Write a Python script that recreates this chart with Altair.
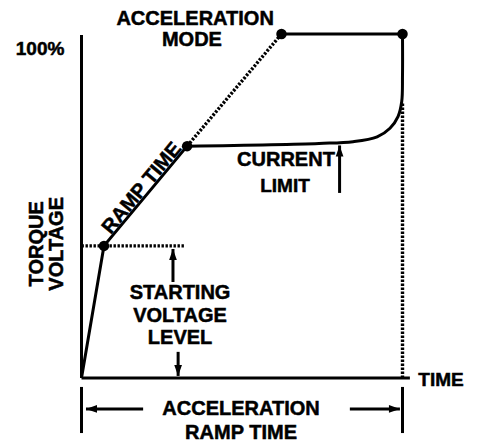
import altair as alt
import pandas as pd

# ---- data (time % of ramp, torque/voltage %) ----
ramp_t = [0, 7.0, 32.9]
ramp_v = [0, 38.4, 67.4]
full_t = [62.3, 100]
full_v = [100, 100]
limit_t = [32.9, 74.0, 84.6, 92.1, 96.1, 98.6, 99.75, 100, 100]
limit_v = [67.4, 68.2, 68.7, 70.1, 72.6, 76.0, 80.3, 88.1, 100]

start_level_t = [0, 32.2]
start_level_v = [38.4, 38.4]
ramp_ext_t = [32.9, 62.3]
ramp_ext_v = [67.4, 100]
end_drop_t = [100, 100]
end_drop_v = [0, 80]

dot_t = [7.0, 32.9, 62.3, 100]
dot_v = [38.4, 67.4, 100, 100]

# axis lines & dimension bars
rule_t = [0, 0, 0, 100]
rule_t2 = [0, 102.3, 0, 100]
rule_v = [0, 0, -2.6, -2.6]
rule_v2 = [99.7, 0, -16, -16]

# arrows: shaft start (t, v) -> tip (t2, v2)
arrow_t = [28.5, 30.1, 80.4, 19.2, 83.6]
arrow_v = [27.9, 7.6, 53.8, -9.0, -9.0]
arrow_t2 = [28.5, 30.1, 80.4, 1.4, 99.2]
arrow_v2 = [37.5, 0.6, 67.6, -9.0, -9.0]
arrow_dir = ["up", "down", "up", "left", "right"]

# labels
big_text = ["ACCELERATION", "MODE", "CURRENT", "STARTING", "VOLTAGE", "LEVEL",
            "ACCELERATION", "RAMP TIME"]
big_t = [35.4, 34.4, 63.7, 30.7, 30.7, 30.7, 49.7, 49.7]
big_v = [104.3, 98.2, 63.4, 24.7, 18.0, 11.6, -9.0, -16.0]

small_text = ["100%", "LIMIT", "TIME"]
small_t = [-12.9, 63.4, 112]
small_v = [95.6, 55.8, -0.6]

ylabel_text = ["TORQUE", "VOLTAGE"]
ylabel_t = [-13.9, -7.6]
ylabel_v = [39.0, 39.0]

ramp_label = ["RAMP TIME"]
ramp_label_t = [18.8]
ramp_label_v = [55.2]

# ---- scales ----
xs = alt.Scale(domain=[0, 100], range=[73.5, 394.5])
ys = alt.Scale(domain=[0, 100], range=[370, 26])
X = lambda f="t": alt.X(f"{f}:Q", scale=xs, axis=None)
Y = lambda f="v": alt.Y(f"{f}:Q", scale=ys, axis=None)

def line_df(t, v):
    return pd.DataFrame({"t": t, "v": v, "o": list(range(len(t)))})

layers = []
for t, v in [(ramp_t, ramp_v), (full_t, full_v)]:
    layers.append(alt.Chart(line_df(t, v)).mark_line(color="black", strokeWidth=3)
                  .encode(x=X(), y=Y(), order="o:Q"))
layers.append(alt.Chart(line_df(limit_t, limit_v))
              .mark_line(color="black", strokeWidth=3, interpolate="catmull-rom")
              .encode(x=X(), y=Y(), order="o:Q"))
for t, v in [(start_level_t, start_level_v), (ramp_ext_t, ramp_ext_v), (end_drop_t, end_drop_v)]:
    layers.append(alt.Chart(line_df(t, v))
                  .mark_line(color="black", strokeWidth=3.4, strokeDash=[2.4, 1.6])
                  .encode(x=X(), y=Y(), order="o:Q"))

rules = pd.DataFrame({"t": rule_t, "t2": rule_t2, "v": rule_v, "v2": rule_v2})
layers.append(alt.Chart(rules).mark_rule(color="black", strokeWidth=3)
              .encode(x=X(), x2="t2:Q", y=Y(), y2="v2:Q"))

arrows = pd.DataFrame({"t": arrow_t, "v": arrow_v, "t2": arrow_t2, "v2": arrow_v2, "d": arrow_dir})
layers.append(alt.Chart(arrows).mark_rule(color="black", strokeWidth=3)
              .encode(x=X(), x2="t2:Q", y=Y(), y2="v2:Q"))
shapes = {
    "up": "M-0.7,2L0,0L0.7,2Z",
    "down": "M-0.7,-2L0,0L0.7,-2Z",
    "left": "M2,-0.7L0,0L2,0.7Z",
    "right": "M-2,-0.7L0,0L-2,0.7Z",
}
for d, path in shapes.items():
    layers.append(alt.Chart(arrows[arrows.d == d].reset_index(drop=True)).mark_point(
        shape=path, filled=True, color="black", size=121, opacity=1)
        .encode(x=X("t2"), y=Y("v2")))

dots = pd.DataFrame({"t": dot_t, "v": dot_v})
layers.append(alt.Chart(dots).mark_circle(color="black", size=110, opacity=1)
              .encode(x=X(), y=Y()))

font = dict(font="Liberation Sans", fontWeight="bold", color="black",
            align="center", baseline="middle", stroke="black", strokeWidth=0.5)
big = pd.DataFrame({"txt": big_text, "t": big_t, "v": big_v})
layers.append(alt.Chart(big).mark_text(fontSize=20, **font)
              .encode(x=X(), y=Y(), text="txt:N"))
small = pd.DataFrame({"txt": small_text, "t": small_t, "v": small_v})
layers.append(alt.Chart(small).mark_text(fontSize=19, **font)
              .encode(x=X(), y=Y(), text="txt:N"))
yl = pd.DataFrame({"txt": ylabel_text, "t": ylabel_t, "v": ylabel_v})
layers.append(alt.Chart(yl).mark_text(fontSize=20, angle=270, **font)
              .encode(x=X(), y=Y(), text="txt:N"))
rl = pd.DataFrame({"txt": ramp_label, "t": ramp_label_t, "v": ramp_label_v})
layers.append(alt.Chart(rl).mark_text(fontSize=20, angle=309.7, **font)
              .encode(x=X(), y=Y(), text="txt:N"))

chart = alt.layer(*layers).properties(
    width=461, height=435, autosize=alt.AutoSizeParams(type="none"), padding=0
).configure_view(stroke=None)

chart.save("out.html", embed_options={"renderer": "svg", "actions": False})
